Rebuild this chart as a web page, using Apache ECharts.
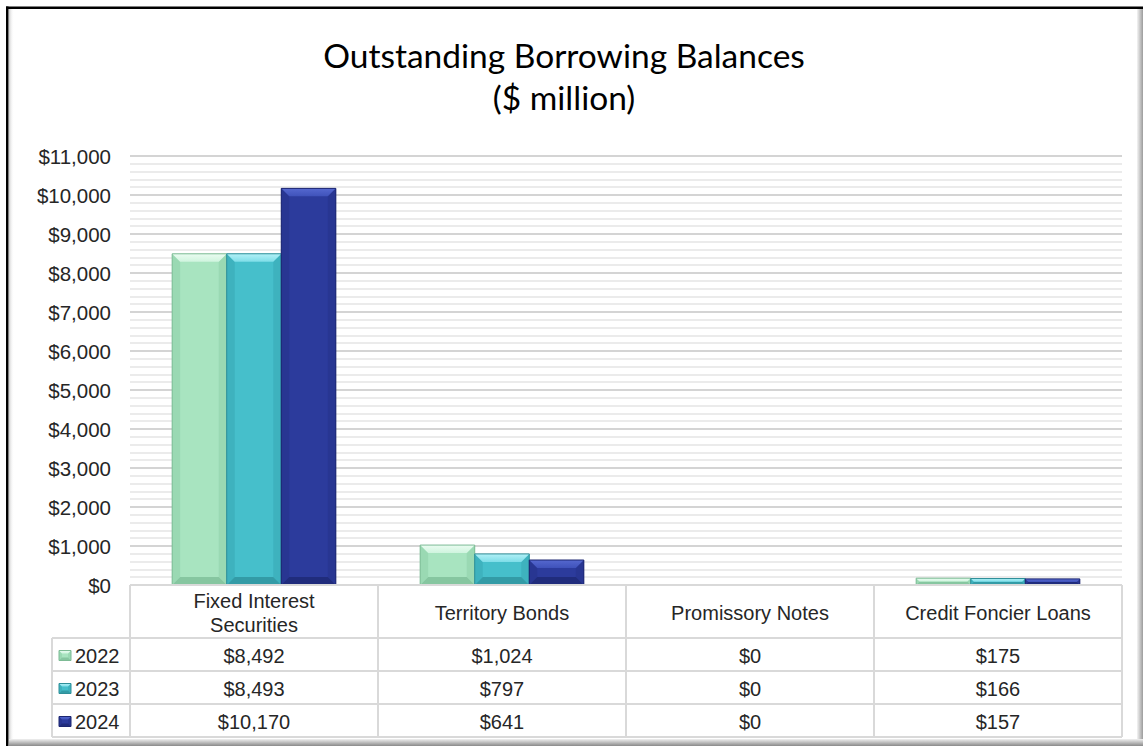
<!DOCTYPE html>
<html>
<head>
<meta charset="utf-8">
<script src="https://cdn.jsdelivr.net/npm/echarts@6/dist/echarts.min.js"></script>
<style>
  html, body { margin: 0; padding: 0; background: #ffffff; }
  #chart { width: 1143px; height: 746px; }
</style>
</head>
<body>
<div id="chart"></div>
<script>
// ---- data ----
const categories = ['Fixed Interest\nSecurities', 'Territory Bonds', 'Promissory Notes', 'Credit Foncier Loans'];
const years = ['2022', '2023', '2024'];
const values2022 = [8492, 1024, 0, 175];
const values2023 = [8493, 797, 0, 166];
const values2024 = [10170, 641, 0, 157];
const yTicks = [0, 1000, 2000, 3000, 4000, 5000, 6000, 7000, 8000, 9000, 10000, 11000];

const seriesValues = [values2022, values2023, values2024];

// ---- look ----
const FONT = '"Liberation Sans", Arial, sans-serif';
const TEXT = '#262626';
const palettes = [
  { face: '#a8e4c0', top: '#cff4de', topEdge: '#eafcf1', side: '#9ad9b3', bottom: '#86c6a0', line: '#7dbb95' },
  { face: '#46bfcb', top: '#7edde8', topEdge: '#b2f1f7', side: '#3eb2be', bottom: '#339ba6', line: '#2f8f99' },
  { face: '#2c3b9c', top: '#3f52ba', topEdge: '#5568cf', side: '#283692', bottom: '#202c7c', line: '#1c2670' }
];

const GRID = { left: 130, right: 21, top: 156, bottom: 161 };
const W = 1143, H = 746;
const CAT_GAP = 0.34;
const HEADER_H = 53, ROW_H = 33, LEGEND_LEFT = 52;

function money(v) {
  return '$' + String(Math.round(v)).replace(/\B(?=(\d{3})+(?!\d))/g, ',');
}

// bevelled block (top light, sides and bottom darker)
function bevelShapes(x, y, w, h, pal, maxB) {
  const b = Math.min(maxB, h / 2, w / 4);
  const x2 = x + w, y2 = y + h;
  return [
    { type: 'rect', shape: { x: x, y: y, width: w, height: h },
      style: { fill: pal.face } },
    { type: 'polygon', shape: { points: [[x, y], [x + b, y + b], [x + b, y2 - b], [x, y2]] },
      style: { fill: pal.side } },
    { type: 'polygon', shape: { points: [[x2, y], [x2 - b, y + b], [x2 - b, y2 - b], [x2, y2]] },
      style: { fill: pal.side } },
    { type: 'polygon', shape: { points: [[x, y2], [x + b, y2 - b], [x2 - b, y2 - b], [x2, y2]] },
      style: { fill: pal.bottom } },
    { type: 'polygon', shape: { points: [[x, y], [x2, y], [x2 - b, y + b], [x + b, y + b]] },
      style: { fill: { type: 'linear', x: 0, y: 0, x2: 0, y2: 1,
        colorStops: [{ offset: 0, color: pal.topEdge }, { offset: 1, color: pal.top }] } } },
    { type: 'rect', shape: { x: x, y: y, width: w, height: h },
      style: { fill: 'none', stroke: pal.line, lineWidth: 1 } }
  ];
}

function makeRenderer(si) {
  return function (params, api) {
    const cat = api.value(0);
    const val = api.value(1);
    if (!val) return { type: 'group', children: [] };
    const band = api.size([1, 0])[0];
    const groupW = band * (1 - CAT_GAP);
    const barW = groupW / years.length;
    const base = api.coord([cat, 0]);
    const top = api.coord([cat, val]);
    const x = base[0] - groupW / 2 + si * barW;
    const h = base[1] - top[1];
    return { type: 'group', children: bevelShapes(x, top[1], barW, h, palettes[si], 8) };
  };
}

const series = years.map((yr, si) => ({
  name: yr,
  type: 'custom',
  renderItem: makeRenderer(si),
  encode: { x: 0, y: 1 },
  data: seriesValues[si].map((v, ci) => [ci, v]),
  z: 3
}));

// ---- data table under the plot ----
function tableGraphics() {
  const g = [];
  const plotL = GRID.left, plotR = W - GRID.right, plotB = H - GRID.bottom;
  const colW = (plotR - plotL) / categories.length;
  const rowsTop = plotB + HEADER_H;
  const tableB = rowsTop + ROW_H * years.length;
  const lineStyle = { stroke: '#d9d9d9', lineWidth: 2 };
  const line = (x1, y1, x2, y2) => g.push({ type: 'line', shape: { x1, y1, x2, y2 }, style: lineStyle, z: 5 });

  // horizontal rules
  line(plotL, plotB, plotR, plotB);
  for (let r = 0; r <= years.length; r++) {
    line(LEGEND_LEFT, rowsTop + r * ROW_H, plotR, rowsTop + r * ROW_H);
  }
  // vertical rules
  for (let c = 0; c <= categories.length; c++) {
    line(plotL + c * colW, plotB, plotL + c * colW, tableB);
  }
  line(LEGEND_LEFT, rowsTop, LEGEND_LEFT, tableB);

  // header labels
  categories.forEach((cat, ci) => {
    g.push({ type: 'text', x: plotL + (ci + 0.5) * colW, y: plotB + HEADER_H / 2 + 1, z: 6,
      style: { text: cat, fill: TEXT, font: '20px ' + FONT, align: 'center', verticalAlign: 'middle', lineHeight: 24 } });
  });
  // rows
  years.forEach((yr, si) => {
    const cy = rowsTop + (si + 0.5) * ROW_H + 1;
    bevelShapes(59, cy - 5, 12, 10, palettes[si], 3).forEach(s => { s.z = 6; g.push(s); });
    g.push({ type: 'text', x: 75, y: cy, z: 6,
      style: { text: yr, fill: TEXT, font: '20px ' + FONT, align: 'left', verticalAlign: 'middle' } });
    seriesValues[si].forEach((v, ci) => {
      g.push({ type: 'text', x: plotL + (ci + 0.5) * colW, y: cy, z: 6,
        style: { text: money(v), fill: TEXT, font: '20px ' + FONT, align: 'center', verticalAlign: 'middle' } });
    });
  });
  return g;
}

function frameGraphics() {
  return [
    { type: 'rect', shape: { x: 9, y: 9, width: 5, height: H - 9 }, z: 1,
      style: { fill: { type: 'linear', x: 0, y: 0, x2: 1, y2: 0,
        colorStops: [{ offset: 0, color: '#d0d0d0' }, { offset: 1, color: 'rgba(255,255,255,0)' }] } } },
    { type: 'rect', shape: { x: W - 6, y: 9, width: 6, height: H - 9 }, z: 1,
      style: { fill: { type: 'linear', x: 0, y: 0, x2: 1, y2: 0,
        colorStops: [{ offset: 0, color: '#f4f4f4' }, { offset: 1, color: '#9c9c9c' }] } } },
    { type: 'rect', shape: { x: 9, y: H - 7, width: W - 9, height: 7 }, z: 2,
      style: { fill: { type: 'linear', x: 0, y: 0, x2: 0, y2: 1,
        colorStops: [{ offset: 0, color: '#f0f0f0' }, { offset: 1, color: '#8a8a8a' }] } } },
    { type: 'rect', shape: { x: 6, y: 6.5, width: W - 6, height: 2.5 }, z: 10, style: { fill: '#000' } },
    { type: 'rect', shape: { x: 6, y: 6.5, width: 2.5, height: H - 6.5 }, z: 10, style: { fill: '#000' } }
  ];
}

// two-line chart title, centred over the plot
function titleGraphics() {
  return [{
    type: 'text', x: 564, y: 34, z: 10,
    style: {
      text: 'Outstanding Borrowing Balances\n($ million)',
      font: '33.5px Lato, "Open Sans", sans-serif',
      fill: '#000', align: 'center', verticalAlign: 'top', lineHeight: 42
    }
  }];
}

const chart = echarts.init(document.getElementById('chart'), null, { renderer: 'svg', width: W, height: H });

chart.setOption({
  backgroundColor: '#ffffff',
  animation: false,
  grid: GRID,
  xAxis: {
    type: 'category',
    data: categories,
    axisLine: { show: false },
    axisTick: { show: false },
    axisLabel: { show: false },
    splitLine: { show: false }
  },
  yAxis: {
    type: 'value',
    min: yTicks[0],
    max: yTicks[yTicks.length - 1],
    interval: yTicks[1] - yTicks[0],
    axisLine: { show: false },
    axisTick: { show: false },
    axisLabel: { formatter: v => money(v), color: TEXT, fontFamily: FONT, fontSize: 20.5, margin: 19 },
    splitLine: { lineStyle: { color: '#d4d4d4', width: 2 } },
    minorTick: { show: false, splitNumber: 5 },
    minorSplitLine: { show: true, lineStyle: { color: '#ebebeb', width: 2 } }
  },
  series: series,
  graphic: { elements: frameGraphics().concat(titleGraphics(), tableGraphics()) }
});
</script>
</body>
</html>
